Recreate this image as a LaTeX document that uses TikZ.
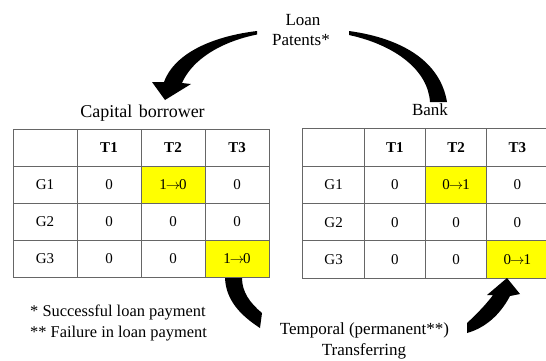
\documentclass[tikz,border=0pt]{standalone}
\usepackage{fontspec}
\setmainfont{Liberation Serif}
\definecolor{gridline}{HTML}{666666}
\definecolor{marked}{HTML}{FFFF00}
% a change of a cell value, with a long arrow between the digits
\newcommand\chg[2]{#1\kern-1pt$\rightarrow$\kern-1pt#2}
\begin{document}
\begin{tikzpicture}[x=1pt,y=-1pt,
  label/.style={inner sep=0pt, anchor=base, font=\fontsize{17}{20}\selectfont},
  note/.style={inner sep=0pt, anchor=base west, font=\fontsize{16.4}{20}\selectfont},
  lcell/.style={draw=gridline, line width=1pt, minimum width=64pt, minimum height=37pt,
    inner sep=0pt, font=\fontsize{15}{18}\selectfont},
  rcell/.style={lcell, minimum width=61.25pt, minimum height=37.25pt},
  hl/.style={fill=marked},
  hd/.style={font=\fontsize{15}{18}\selectfont\bfseries},
  blob/.style={fill=black, draw=none}]
\useasboundingbox (0,0) rectangle (546,360);
\clip (0,0) rectangle (546,360);

% ---- Capital borrower table ----
\node[lcell]     (L00) at (45,147.5)  {};
\node[lcell,hd]  (L01) at (109,147.5) {T1};
\node[lcell,hd]  (L02) at (173,147.5) {T2};
\node[lcell,hd]  (L03) at (237,147.5) {T3};
\node[lcell]     (L10) at (45,184.5)  {G1};
\node[lcell]     (L11) at (109,184.5) {0};
\node[lcell,hl]  (L12) at (173,184.5) {\chg{1}{0}};
\node[lcell]     (L13) at (237,184.5) {0};
\node[lcell]     (L20) at (45,221.5)  {G2};
\node[lcell]     (L21) at (109,221.5) {0};
\node[lcell]     (L22) at (173,221.5) {0};
\node[lcell]     (L23) at (237,221.5) {0};
\node[lcell]     (L30) at (45,258.5)  {G3};
\node[lcell]     (L31) at (109,258.5) {0};
\node[lcell]     (L32) at (173,258.5) {0};
\node[lcell,hl]  (L33) at (237,258.5) {\chg{1}{0}};

% ---- Bank table ----
\node[rcell]     (R00) at (333.6,147.6) {};
\node[rcell,hd]  (R01) at (394.9,147.6) {T1};
\node[rcell,hd]  (R02) at (456.1,147.6) {T2};
\node[rcell,hd]  (R03) at (517.4,147.6) {T3};
\node[rcell]     (R10) at (333.6,184.9) {G1};
\node[rcell]     (R11) at (394.9,184.9) {0};
\node[rcell,hl]  (R12) at (456.1,184.9) {\chg{0}{1}};
\node[rcell]     (R13) at (517.4,184.9) {0};
\node[rcell]     (R20) at (333.6,222.1) {G2};
\node[rcell]     (R21) at (394.9,222.1) {0};
\node[rcell]     (R22) at (456.1,222.1) {0};
\node[rcell]     (R23) at (517.4,222.1) {0};
\node[rcell]     (R30) at (333.6,259.4) {G3};
\node[rcell]     (R31) at (394.9,259.4) {0};
\node[rcell]     (R32) at (456.1,259.4) {0};
\node[rcell,hl]  (R33) at (517.4,259.4) {\chg{0}{1}};

% ---- labels ----
\node[label] (loan)    at (303,25)  {Loan};
\node[label] (patents) at (301,45)  {Patents*};
\node[label, font=\fontsize{18}{20}\selectfont] (borrower) at (142.5,117) {Capital\hspace{2pt} borrower};
\node[label] (bank)    at (430,115) {Bank};
\node[label] (temporal) at (364.5,334) {Temporal (permanent**)};
\node[label] (transfer) at (364,355) {Transferring};
\node[note]  (note1) at (30,316) {* Successful loan payment};
\node[note]  (note2) at (30,337) {** Failure in loan payment};

% ---- curved block arrows ----
% loan goes to the borrower
\fill[blob] (257,31) .. controls (215,36) and (175,52) .. (164,82)
  -- (152,82) -- (165,100) -- (191,84) -- (182,83)
  .. controls (192,60) and (220,42) .. (257,34.5) -- cycle;
% patents go to the bank
\fill[blob] (349,31) .. controls (400,38) and (440,60) .. (447,102)
  -- (430,102) .. controls (428,70) and (395,45) .. (349,35) -- cycle;
% transfer leaves the borrower
\fill[blob] (225,278) .. controls (226,300) and (240,315) .. (260,328)
  -- (262,313) .. controls (250,303) and (242,292) .. (242,278) -- cycle;
% transfer reaches the bank
\fill[blob] (467,323) .. controls (478,313) and (488,302) .. (493,295)
  -- (487,295) -- (507,278) -- (520,294) -- (510,296)
  .. controls (500,315) and (485,328) .. (467,333) -- cycle;
\end{tikzpicture}
\end{document}
